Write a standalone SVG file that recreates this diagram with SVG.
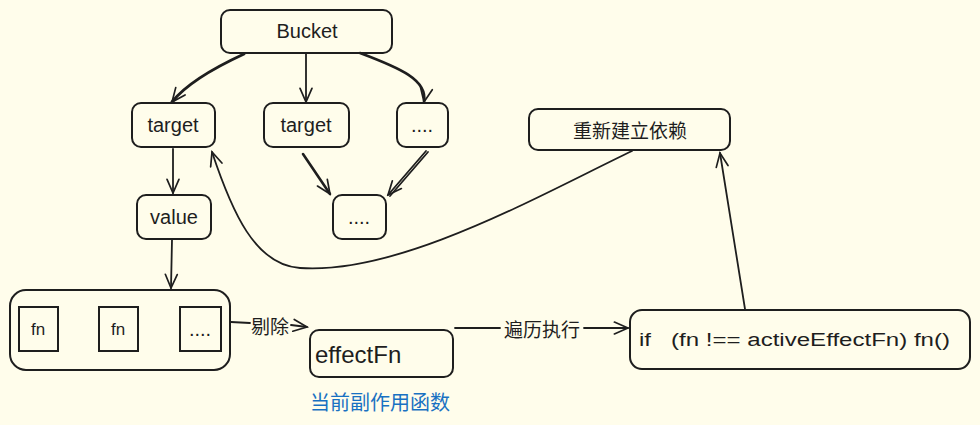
<svg xmlns="http://www.w3.org/2000/svg" width="980" height="425" viewBox="0 0 980 425">
<defs>
<style>
.box{fill:none;stroke:#1e1e1e;stroke-width:2}
.ln{fill:none;stroke:#1e1e1e;stroke-width:1.8;stroke-linecap:round}
.t{font-family:"Liberation Sans","Noto Sans CJK SC",sans-serif;font-size:20px;fill:#1e1e1e;text-anchor:middle;dominant-baseline:central}
.cn{font-family:"Noto Sans CJK SC","Liberation Sans",sans-serif;font-size:19px;fill:#1e1e1e;text-anchor:middle;dominant-baseline:central}
</style>
<marker id="ah" viewBox="0 0 20 20" refX="18" refY="10" markerWidth="17" markerHeight="17" markerUnits="userSpaceOnUse" orient="auto">
<path d="M2,3 L18,10 L2,17" fill="none" stroke="#1e1e1e" stroke-width="2" stroke-linecap="round"/>
</marker>
</defs>
<rect width="980" height="425" fill="#fffdeb"/>
<g id="connectors">
<path class="ln" d="M244,54 C205,72 183,88 172,102" style="stroke-width:3" marker-end="url(#ah)"/>
<path class="ln" d="M306,54 L306,102" marker-end="url(#ah)"/>
<path class="ln" d="M360,53 C400,68 428,80 424,102" style="stroke-width:2.6" marker-end="url(#ah)"/>
<path class="ln" d="M173,149 L173,193" marker-end="url(#ah)"/>
<path class="ln" d="M303,154 L330,194" style="stroke-width:2.6" marker-end="url(#ah)"/>
<path class="ln" d="M426,151 L388,195" marker-end="url(#ah)"/>
<path class="ln" d="M428,152 L390,196"/>
<path class="ln" d="M172,240 L171,288" marker-end="url(#ah)"/>
<path class="ln" d="M632,151 C540,195 400,275 300,268 C255,265 232,212 212,152" marker-end="url(#ah)"/>
<path class="ln" d="M745,309 L720,153" marker-end="url(#ah)"/>
<path class="ln" d="M231,322 L250,323"/>
<path class="ln" d="M291,325 L307,327" marker-end="url(#ah)"/>
<text class="cn" x="270" y="325">剔除</text>
<path class="ln" d="M455,328 L500,328"/>
<path class="ln" d="M584,328 L628,328" marker-end="url(#ah)"/>
<text class="cn" x="542" y="328">遍历执行</text>
</g>
<g id="bucket"><rect class="box" x="221" y="10" width="171" height="43" rx="9"/><text class="t" x="307" y="31">Bucket</text></g>
<g id="target1"><rect class="box" x="132" y="103" width="83" height="44" rx="9"/><text class="t" x="173" y="125">target</text></g>
<g id="target2"><rect class="box" x="264" y="103" width="85" height="44" rx="9"/><text class="t" x="306" y="125">target</text></g>
<g id="dots1"><rect class="box" x="397" y="103" width="51" height="44" rx="9"/><text class="t" x="422" y="125">....</text></g>
<g id="value"><rect class="box" x="137" y="195" width="74" height="44" rx="9"/><text class="t" x="174" y="217">value</text></g>
<g id="dots2"><rect class="box" x="333" y="195" width="53" height="44" rx="9"/><text class="t" x="359" y="217">....</text></g>
<g id="rebuild"><rect class="box" x="529" y="109" width="201" height="41" rx="9"/><text class="cn" x="630" y="129">重新建立依赖</text></g>
<g id="fnset">
<rect class="box" x="10" y="290" width="220" height="80" rx="16"/>
<rect class="box" x="19" y="307" width="39" height="44"/><text class="t" x="38" y="329" style="font-size:17px">fn</text>
<rect class="box" x="99" y="307" width="39" height="44"/><text class="t" x="118" y="329" style="font-size:17px">fn</text>
<rect class="box" x="180" y="307" width="41" height="44"/><text class="t" x="200" y="329">....</text>
</g>
<g id="effectFn"><rect class="box" x="310" y="330" width="143" height="47" rx="9"/><text class="t" x="315" y="354" style="font-size:24px;text-anchor:start">effectFn</text></g>
<g id="cond"><rect class="box" x="630" y="310" width="340" height="59" rx="12"/><text class="t" x="639" y="340" style="font-size:18px;text-anchor:start;white-space:pre" xml:space="preserve" textLength="311" lengthAdjust="spacingAndGlyphs">if   (fn !== activeEffectFn) fn()</text></g>
<text class="cn" x="380" y="401" style="fill:#1971c2;font-size:20px">当前副作用函数</text>
</svg>
